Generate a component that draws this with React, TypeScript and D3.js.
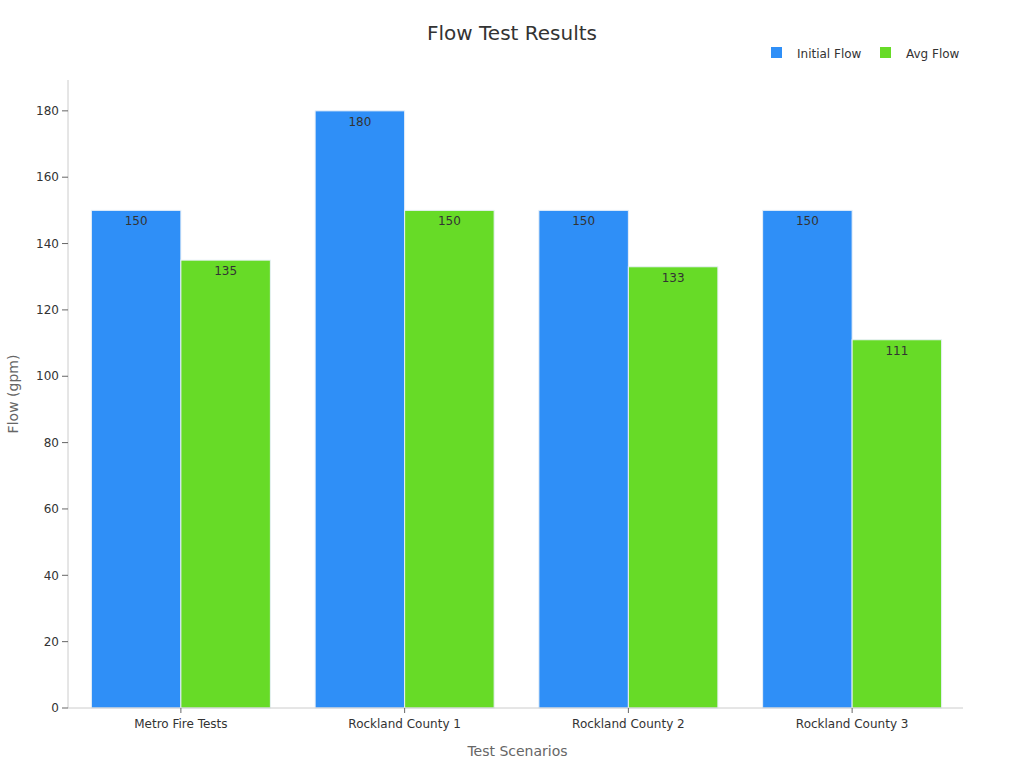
import * as d3 from "d3";

const categories = ["Metro Fire Tests", "Rockland County 1", "Rockland County 2", "Rockland County 3"];
const seriesNames = ["Initial Flow", "Avg Flow"];
const initialFlow = [150, 180, 150, 150];
const avgFlow = [135, 150, 133, 111];
const yTicks = [0, 20, 40, 60, 80, 100, 120, 140, 160, 180];
const colors = ["#2f8ff7", "#67db27"];

const width = 1024;
const height = 768;
const margin = {top: 80, right: 61, bottom: 60, left: 68};

export default function App() {
    const innerW = width - margin.left - margin.right;
    const innerH = height - margin.top - margin.bottom;

    const x = d3.scaleBand<string>()
        .domain(categories)
        .range([1, innerW + 1])
        .paddingInner(0.2)
        .paddingOuter(0.1);
    const x1 = d3.scaleBand<string>()
        .domain(seriesNames)
        .range([0, x.bandwidth()]);
    const y = d3.scaleLinear().domain([0, 189.3]).range([innerH, 0]);

    const values = [initialFlow, avgFlow];
    const font = "'DejaVu Sans', sans-serif";

    return (
        <svg width={width} height={height} style={{position: "absolute", left: 0, top: 0, fontFamily: font}}>
            <rect width={width} height={height} fill="#fff" />
            <text x={512} y={40} textAnchor="middle" fontSize={20} fill="#333">Flow Test Results</text>

            {/* legend */}
            {seriesNames.map((s, i) => {
                const lx = i === 0 ? 771 : 880;
                return (
                    <g key={s}>
                        <rect x={lx} y={47} width={11} height={11} fill={colors[i]} />
                        <text x={lx + 26} y={57.5} fontSize={12} fill="#333">{s}</text>
                    </g>
                );
            })}

            <g transform={`translate(${margin.left},${margin.top})`}>
                {/* y axis */}
                <line x1={0} x2={0} y1={0} y2={innerH} stroke="#ccc" />
                {yTicks.map(t => (
                    <g key={t} transform={`translate(0,${y(t)})`}>
                        <line x1={-6} x2={0} stroke="#666" />
                        <text x={-9} dy="0.35em" textAnchor="end" fontSize={12} fill="#333">{t}</text>
                    </g>
                ))}
                {/* bars */}
                {categories.map((c, ci) => (
                    <g key={c} transform={`translate(${x(c)},0)`}>
                        {seriesNames.map((s, si) => {
                            const v = values[si][ci];
                            const bx = x1(s)!;
                            return (
                                <g key={s}>
                                    <rect x={bx} y={y(v)} width={x1.bandwidth()} height={innerH - y(v)}
                                          fill={colors[si]} stroke="#e8f0f8" strokeWidth={1} />
                                    <text x={bx + x1.bandwidth() / 2} y={y(v) + 15} textAnchor="middle"
                                          fontSize={12} fill="#333">{v}</text>
                                </g>
                            );
                        })}
                    </g>
                ))}
                {/* x axis */}
                <line x1={0} x2={innerW} y1={innerH} y2={innerH} stroke="#ccc" />
                {categories.map(c => (
                    <g key={c} transform={`translate(${x(c)! + x.bandwidth() / 2},${innerH})`}>
                        <line y1={0} y2={5} stroke="#666" />
                        <text y={20} textAnchor="middle" fontSize={12} fill="#333">{c}</text>
                    </g>
                ))}
                <text x={innerW / 2 + 2} y={innerH + 48} textAnchor="middle" fontSize={14} fill="#666">Test Scenarios</text>
                <text transform={`translate(${-50},${innerH / 2}) rotate(-90)`} textAnchor="middle"
                      fontSize={14} fill="#666">Flow (gpm)</text>
            </g>
        </svg>
    );
}
